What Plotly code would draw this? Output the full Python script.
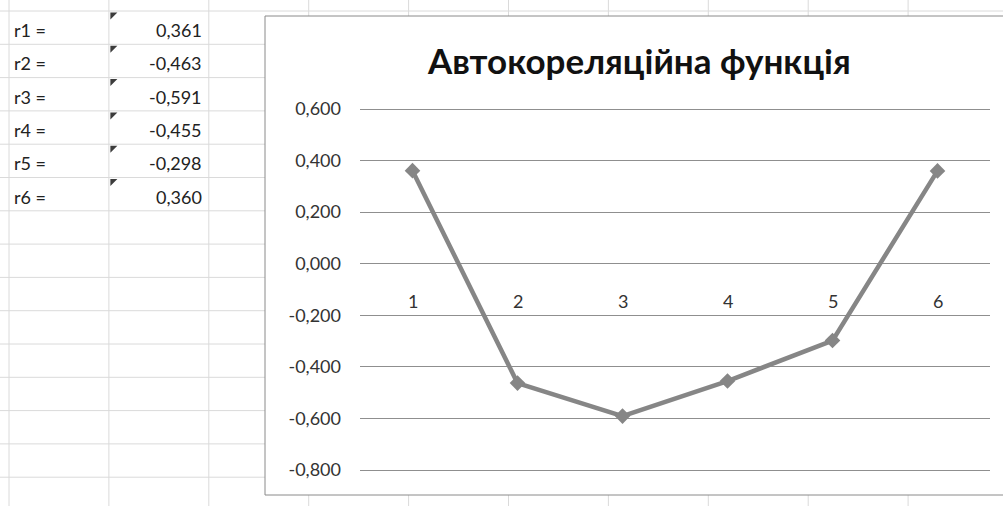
import plotly.graph_objects as go

# Autocorrelation coefficients by lag
lags = [1, 2, 3, 4, 5, 6]
r_values = [0.361, -0.463, -0.591, -0.455, -0.298, 0.360]
cell_labels = [f"r{k} =" for k in lags]
y_ticks = [0.6, 0.4, 0.2, 0.0, -0.2, -0.4, -0.6, -0.8]
title_text = "Автокореляційна функція"

W, H = 1003, 506


def fx(px):
    return px / W


def fy(py):
    return 1 - py / H


def excel_num(v):
    s = f"{v:.3f}".replace(".", ",")
    return "0,000" if s == "-0,000" else s


FONT = "Lato, 'Noto Sans', sans-serif"
GRID = "#dadada"
SERIES = "#868686"

# sheet geometry (pixels)
col_x = [9 + 99.9 * k for k in range(10)]
row_y = [11 + 33.3 * k for k in range(15)]
chart_box = dict(x0=265, y0=16, x1=1012, y1=495)

# value axis: 0.6 at y=109 px, -0.8 at y=470 px; a few px of slack so the
# end gridlines are not clipped
px_per_unit = (470 - 109) / 1.4
slack = 4
y_lo = -0.8 - slack / px_per_unit
y_hi = 0.6 + slack / px_per_unit

shapes = []
for x in col_x:
    shapes.append(dict(type="line", xref="paper", yref="paper", layer="below",
                       x0=fx(x), x1=fx(x), y0=fy(0), y1=fy(H),
                       line=dict(color=GRID, width=1)))
for y in row_y:
    shapes.append(dict(type="line", xref="paper", yref="paper", layer="below",
                       x0=fx(0), x1=fx(W), y0=fy(y), y1=fy(y),
                       line=dict(color=GRID, width=1)))
# chart frame
shapes.append(dict(type="rect", xref="paper", yref="paper", layer="below",
                   x0=fx(chart_box["x0"]), x1=fx(chart_box["x1"]),
                   y0=fy(chart_box["y1"]), y1=fy(chart_box["y0"]),
                   fillcolor="white", line=dict(color="#8a8a8a", width=1)))

annotations = []
for i, (lab, v) in enumerate(zip(cell_labels, r_values)):
    top = row_y[i]
    annotations.append(dict(xref="paper", yref="paper", x=fx(12), y=fy(top + 19),
                            xanchor="left", yanchor="middle", showarrow=False,
                            text=lab, font=dict(family=FONT, size=18, color="#222222")))
    annotations.append(dict(xref="paper", yref="paper", x=fx(204), y=fy(top + 19),
                            xanchor="right", yanchor="middle", showarrow=False,
                            text=excel_num(v), font=dict(family=FONT, size=18, color="#222222")))
    # cell indicator triangle
    x0, y0 = col_x[1] + 1.5, top + 1.5
    shapes.append(dict(type="path", xref="paper", yref="paper",
                       path=f"M {fx(x0)} {fy(y0)} L {fx(x0 + 7)} {fy(y0)} L {fx(x0)} {fy(y0 + 7)} Z",
                       fillcolor="#3c3c3c", line=dict(width=0)))

# category labels next to the horizontal axis
for k in lags:
    annotations.append(dict(xref="x", yref="y", x=k, y=0, yshift=-37,
                            showarrow=False, text=str(k),
                            font=dict(family=FONT, size=18, color="#333333")))

annotations.append(dict(xref="paper", yref="paper", x=fx(639), y=fy(60),
                        xanchor="center", yanchor="middle", showarrow=False,
                        text=f"<b>{title_text}</b>",
                        font=dict(family=FONT, size=35, color="#111111")))

fig = go.Figure(go.Scatter(
    x=lags, y=r_values, mode="lines+markers",
    line=dict(color=SERIES, width=4.5),
    marker=dict(symbol="diamond", size=12, color=SERIES),
    cliponaxis=False, showlegend=False,
))

fig.update_layout(
    template="none",
    width=W, height=H,
    margin=dict(l=0, r=0, t=0, b=0, pad=0, autoexpand=False),
    paper_bgcolor="white", plot_bgcolor="rgba(0,0,0,0)",
    shapes=shapes, annotations=annotations,
    xaxis=dict(domain=[fx(360), fx(990)], range=[0.5, 6.5], automargin=False,
               showticklabels=False, showgrid=False, zeroline=False,
               showline=False, ticks=""),
    yaxis=dict(domain=[fy(470 + slack), fy(109 - slack)], range=[y_lo, y_hi],
               automargin=False,
               tickvals=y_ticks, ticktext=[excel_num(v) for v in y_ticks],
               showgrid=True, gridcolor="#8f8f8f", gridwidth=1,
               zeroline=False, showline=False, ticks="",
               ticklabelstandoff=18,
               tickfont=dict(family=FONT, size=18, color="#333333")),
)

fig.write_html("out.html")
